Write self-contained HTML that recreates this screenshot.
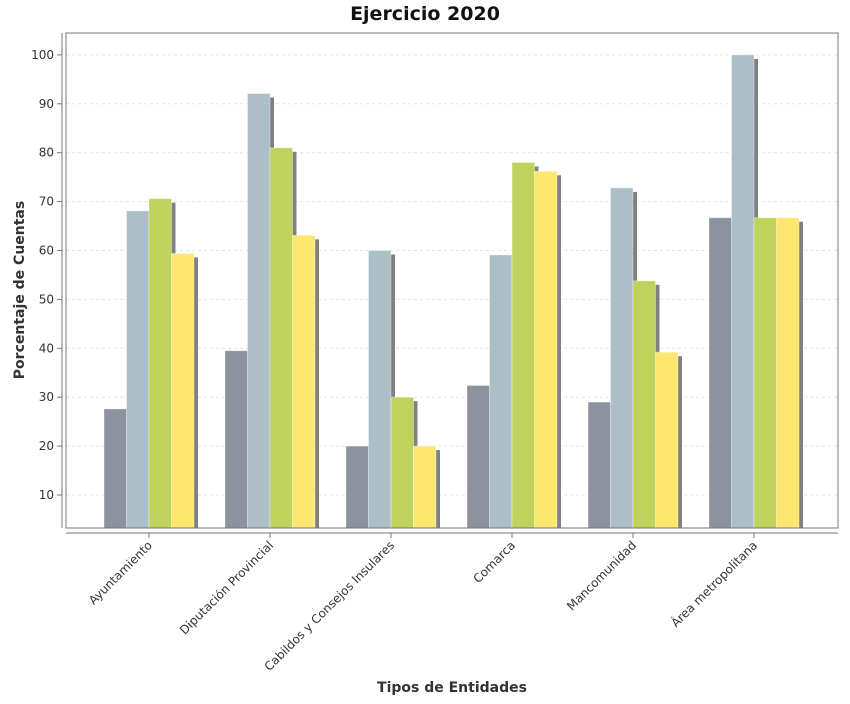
<!DOCTYPE html>
<html><head><meta charset="utf-8"><style>
body{margin:0;background:#fff;font-family:"DejaVu Sans","Liberation Sans",sans-serif}
</style></head><body>
<svg id="chart" width="850" height="700">
<text x="425" y="20" text-anchor="middle" font-size="19" font-weight="bold" fill="#111">Ejercicio 2020</text>
<text transform="translate(24,290) rotate(-90)" text-anchor="middle" font-size="14" font-weight="bold" fill="#333">Porcentaje de Cuentas</text>
<text x="452" y="692" text-anchor="middle" font-size="14" font-weight="bold" fill="#333">Tipos de Entidades</text>
<g id="grid"></g><g id="bars"></g><g id="axes"></g>
</svg>
<script>
const categories=["Ayuntamiento","Diputación Provincial","Cabildos y Consejos Insulares","Comarca","Mancomunidad","Área metropolitana"];
const series1=[27.6,39.5,20.0,32.4,29.0,66.7];
const series2=[68.1,92.1,60.0,59.1,72.8,100];
const series3=[70.6,81.0,30.0,78.0,53.8,66.7];
const series4=[59.4,63.1,20.0,76.2,39.2,66.7];
const yTicks=[10,20,30,40,50,60,70,80,90,100];
const colors=["#8c939e","#adbfc6","#bfd35c","#fde76e"];
const NS="http://www.w3.org/2000/svg";
const L=66,R=838,T=33,B=528;
const y=v=>543.9-v*4.89;
const xc=i=>149+121*i;
function mk(tag,attrs,parent){const e=document.createElementNS(NS,tag);for(const k in attrs)e.setAttribute(k,attrs[k]);parent.appendChild(e);return e;}
const grid=document.getElementById('grid'),bars=document.getElementById('bars'),axes=document.getElementById('axes');
const frame=mk('rect',{x:L,y:T,width:R-L,height:B-T,fill:'none',stroke:'#777','stroke-width':1},axes);


mk('line',{x1:62,y1:T,x2:62,y2:B,stroke:'#777'},axes);
mk('line',{x1:L,y1:533,x2:R,y2:533,stroke:'#777'},axes);
yTicks.forEach(t=>{
 const g=mk('line',{x1:L,x2:R,y1:y(t),y2:y(t),stroke:'#e4e4e4','stroke-dasharray':'3,3'},grid);
 
 
 mk('line',{x1:57,x2:62,y1:y(t),y2:y(t),stroke:'#777'},axes);
 const tx=mk('text',{x:54,y:y(t)+4,'text-anchor':'end','font-size':12,fill:'#333'},axes);
 tx.textContent=t;
 
 
});
const all=[series1,series2,series3,series4];
const bw=22.5;
categories.forEach((c,i)=>{
 const x0=xc(i)-2*bw;
 all.forEach((s,k)=>{
  const bx=x0+k*bw,by=y(s[i]);
  const sh=mk('rect',{x:bx+4,y:by+4,width:bw,height:B-by-4,fill:'#808080'},bars);
  
  
  const r=mk('rect',{x:bx,y:by,width:bw,height:B-by,fill:colors[k],stroke:'rgba(255,255,255,0.35)','stroke-width':1},bars);
  
  
 });
 mk('line',{x1:xc(i),x2:xc(i),y1:533,y2:538,stroke:'#777'},axes);
 const t=mk('text',{transform:`translate(${xc(i)+4},${546}) rotate(-45)`,'text-anchor':'end','font-size':12,fill:'#333'},axes);
 t.textContent=c;
 
 
});
</script>
</body></html>
